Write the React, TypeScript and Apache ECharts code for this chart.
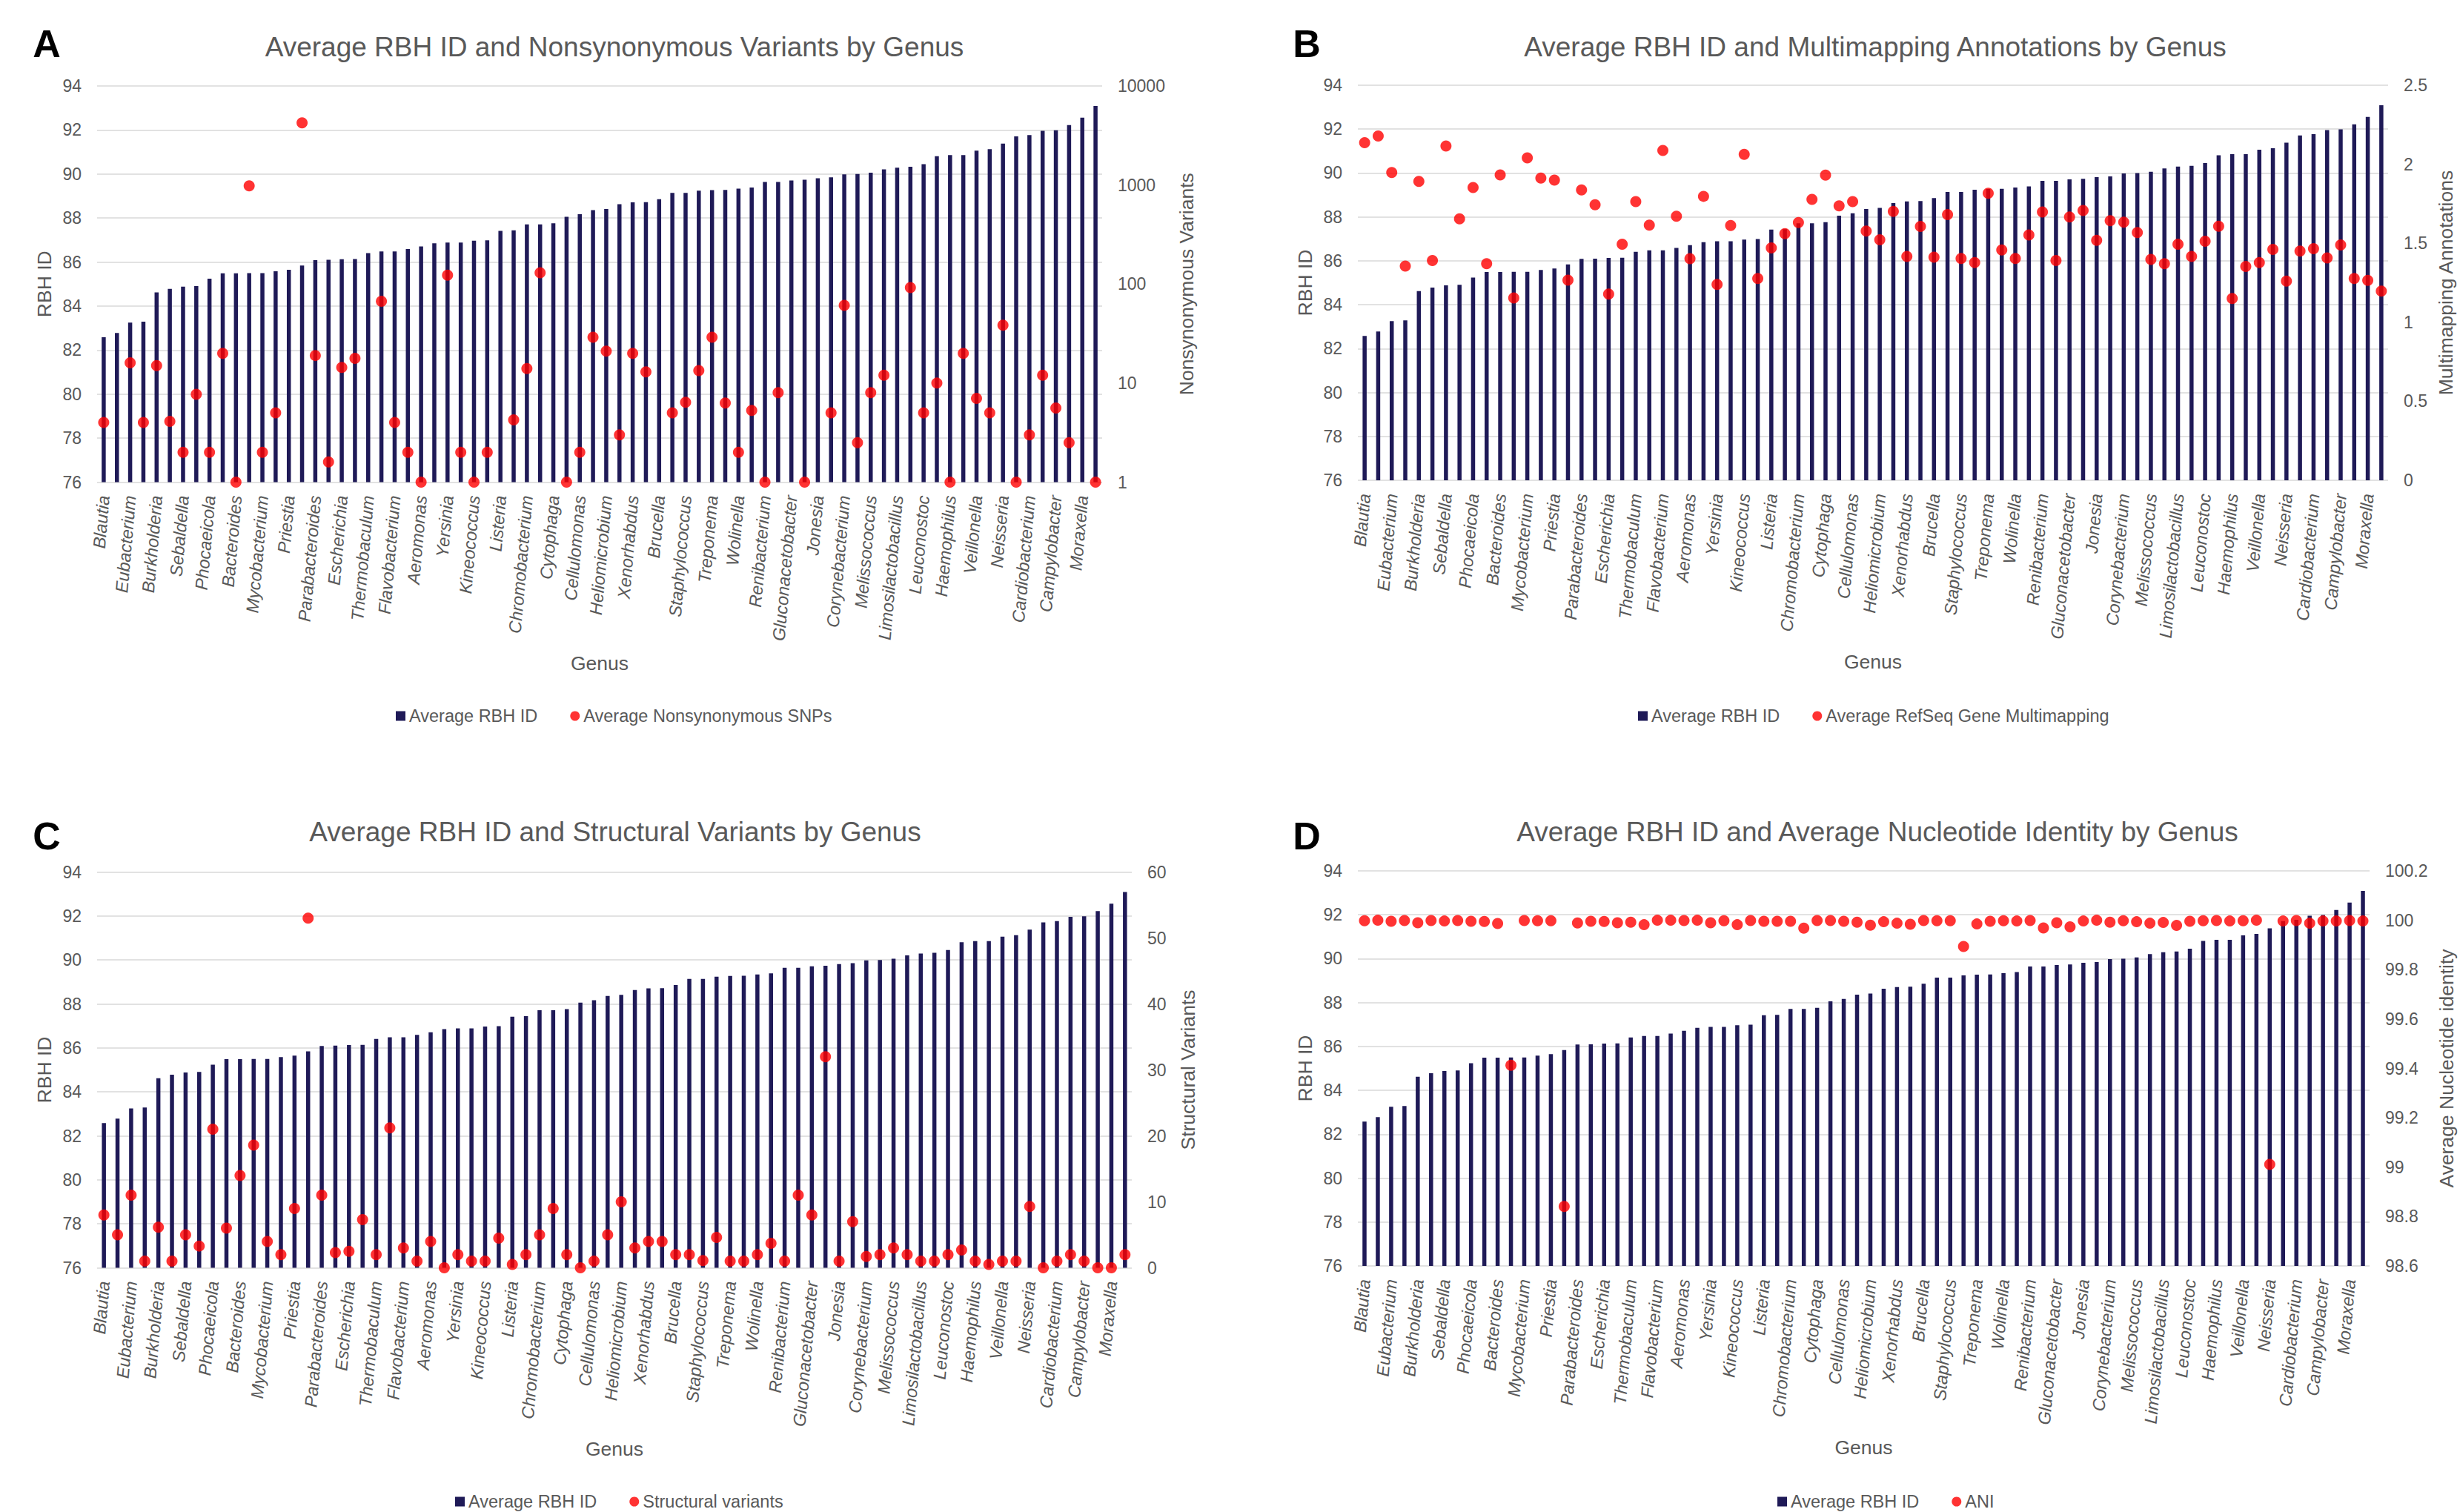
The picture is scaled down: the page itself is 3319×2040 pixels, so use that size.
import React, { useEffect, useRef } from "react";
import * as echarts from "echarts";

const genus = ['Blautia','','Eubacterium','','Burkholderia','','Sebaldella','','Phocaeicola','','Bacteroides','','Mycobacterium','','Priestia','','Parabacteroides','','Escherichia','','Thermobaculum','','Flavobacterium','','Aeromonas','','Yersinia','','Kineococcus','','Listeria','','Chromobacterium','','Cytophaga','','Cellulomonas','','Heliomicrobium','','Xenorhabdus','','Brucella','','Staphylococcus','','Treponema','','Wolinella','','Renibacterium','','Gluconacetobacter','','Jonesia','','Corynebacterium','','Melissococcus','','Limosilactobacillus','','Leuconostoc','','Haemophilus','','Veillonella','','Neisseria','','Cardiobacterium','','Campylobacter','','Moraxella',''];

const rbhId = [82.58,82.78,83.25,83.29,84.62,84.78,84.88,84.91,85.24,85.49,85.49,85.5,85.5,85.58,85.65,85.84,86.09,86.1,86.13,86.14,86.41,86.48,86.48,86.59,86.71,86.85,86.89,86.89,86.97,86.99,87.42,87.44,87.71,87.71,87.76,88.06,88.17,88.36,88.41,88.63,88.71,88.72,88.86,89.14,89.14,89.24,89.27,89.28,89.34,89.39,89.64,89.64,89.71,89.74,89.81,89.85,89.98,90.0,90.06,90.21,90.29,90.33,90.45,90.81,90.86,90.86,91.06,91.13,91.38,91.71,91.77,91.96,91.99,92.22,92.56,93.09];

const nonsynSnps = [4,null,16,4,15,4.1,2,7.7,2,20,1,980,2,5,null,4250,19,1.6,14.4,17.8,null,67,4,2,1,null,123,2,1,2,null,4.25,14,130,null,1,2,29,21,3,20,13,null,5,6.4,13.4,29,6.3,2,5.3,1,8,null,1,null,5,61,2.5,8,12,null,92,5,10,1,20,7,5,38.5,1,3,12,5.6,2.5,null,1];

const multimapping = [2.137,2.179,1.948,1.355,1.891,1.391,2.115,1.655,1.853,1.371,1.933,1.154,2.04,1.912,1.9,1.266,1.837,1.744,1.178,1.494,1.764,1.615,2.087,1.671,1.402,1.797,1.24,1.612,2.063,1.277,1.471,1.561,1.631,1.778,1.931,1.737,1.764,1.577,1.522,1.702,1.416,1.607,1.412,1.681,1.404,1.378,1.816,1.457,1.404,1.553,1.698,1.391,1.666,1.707,1.518,1.643,1.633,1.568,1.398,1.371,1.494,1.417,1.513,1.608,1.15,1.353,1.378,1.461,1.261,1.45,1.466,1.407,1.489,1.277,1.265,1.197];

const structural = [8,5,11,1,6.15,1,5,3.3,21,6,14,18.6,4,2,9,53,11,2.3,2.5,7.3,2,21.2,3,1,4,0,2,1,1,4.5,0.5,2,5,9,2,0,1,5,10,3,4,4,2,2,1.1,4.6,1,1,2,3.7,1,11,8,32,1,7,1.7,2,3,2,1,1,2,2.7,1,0.5,1,1,9.3,0,1,2,1,0,0,2];

const ani = [99.998,100.0,99.996,99.999,99.99,99.999,99.997,99.999,99.996,99.995,99.987,99.413,99.999,99.998,99.998,98.841,99.989,99.996,99.995,99.99,99.992,99.982,100.0,100.0,99.999,100.0,99.99,99.998,99.982,99.999,99.996,99.996,99.996,99.968,99.999,99.999,99.996,99.992,99.98,99.994,99.988,99.984,99.999,99.998,99.998,99.894,99.985,99.996,99.998,99.997,99.999,99.969,99.99,99.973,99.997,100.0,99.992,99.998,99.994,99.988,99.991,99.979,99.996,99.998,99.999,99.997,99.998,100.0,99.011,99.997,99.999,99.988,99.997,99.997,99.999,99.997];

const panelTitles = [
  "Average RBH ID and Nonsynonymous Variants by Genus",
  "Average RBH ID and Multimapping Annotations by Genus",
  "Average RBH ID and Structural Variants by Genus",
  "Average RBH ID and Average Nucleotide Identity by Genus",
];
const panelLetters = ["A", "B", "C", "D"];
const dotSeriesNames = [
  "Average Nonsynonymous SNPs",
  "Average RefSeq Gene Multimapping",
  "Structural variants",
  "ANI",
];
const rightAxisNames = [
  "Nonsynonymous Variants",
  "Multimapping Annotations",
  "Structural Variants",
  "Average Nucleotide identity",
];
const dotData = [nonsynSnps, multimapping, structural, ani];

const FONT = "'Liberation Sans', Arial, sans-serif";
const GRAY = "#595959";
const NAVY = "#1f1a57";
const RED = "#ff0000";

export default function App() {
  const ref = useRef<HTMLDivElement>(null);
  useEffect(() => {
    document.body.style.margin = "0";
    const chart = echarts.init(ref.current!, null, { renderer: "svg" });

    const grids = [
      { left: 131, top: 116, width: 1356, height: 534.5 },
      { left: 1832, top: 115, width: 1390, height: 533 },
      { left: 131, top: 1176.5, width: 1396, height: 534 },
      { left: 1832, top: 1175, width: 1365, height: 533 },
    ];
    const titlePos = [
      [829, 63],
      [2530, 63],
      [830, 1122],
      [2533, 1122],
    ];
    const letterPos = [
      [63, 59],
      [1763, 59],
      [63, 1128],
      [1763, 1128],
    ];
    const legendPos = [
      [534, 954],
      [2210, 954],
      [614, 2014],
      [2398, 2014],
    ];
    const rightGaps = [100, 64, 62, 90];

    const rightAxes: any[] = [
      {
        type: "log",
        logBase: 10,
        min: 1,
        max: 10000,
        axisLabel: { formatter: (v: number) => String(Math.round(v)) },
      },
      { type: "value", min: 0, max: 2.5, interval: 0.5 },
      { type: "value", min: 0, max: 60, interval: 10 },
      { type: "value", min: 98.6, max: 100.2, interval: 0.2 },
    ];

    const xAxis = grids.map((_, i) => ({
      type: "category",
      gridIndex: i,
      data: genus,
      name: "Genus",
      nameLocation: "middle",
      nameGap: 231,
      nameTextStyle: { fontSize: 26.5, color: GRAY, fontFamily: FONT },
      axisLine: { show: false },
      axisTick: { show: false },
      axisLabel: {
        interval: 0,
        rotate: 85,
        margin: 18,
        fontSize: 23.5,
        fontStyle: "italic",
        color: GRAY,
        fontFamily: FONT,
      },
    }));

    const yAxis: any[] = [];
    grids.forEach((_, i) => {
      yAxis.push({
        type: "value",
        gridIndex: i,
        position: "left",
        min: 76,
        max: 94,
        interval: 2,
        name: "RBH ID",
        nameLocation: "middle",
        nameRotate: 90,
        nameGap: 58,
        nameTextStyle: { fontSize: 26.5, color: GRAY, fontFamily: FONT },
        axisLine: { show: false },
        axisTick: { show: false },
        axisLabel: { margin: 21, fontSize: 23, color: GRAY, fontFamily: FONT },
        splitLine: { show: true, lineStyle: { color: "#d9d9d9", width: 1.5 } },
      });
      const r = rightAxes[i];
      yAxis.push({
        ...r,
        gridIndex: i,
        position: "right",
        name: rightAxisNames[i],
        nameLocation: "middle",
        nameRotate: 90,
        nameGap: rightGaps[i],
        nameTextStyle: { fontSize: 26.5, color: GRAY, fontFamily: FONT },
        axisLine: { show: false },
        axisTick: { show: false },
        axisLabel: {
          margin: 21,
          fontSize: 23,
          color: GRAY,
          fontFamily: FONT,
          ...(r.axisLabel || {}),
        },
        splitLine: { show: false },
      });
    });

    const series: any[] = [];
    grids.forEach((_, i) => {
      series.push({
        type: "bar",
        name: "Average RBH ID",
        xAxisIndex: i,
        yAxisIndex: 2 * i,
        data: rbhId,
        barWidth: 5.5,
        itemStyle: { color: NAVY },
        z: 2,
      });
      series.push({
        type: "scatter",
        name: dotSeriesNames[i],
        xAxisIndex: i,
        yAxisIndex: 2 * i + 1,
        data: dotData[i],
        symbol: "circle",
        symbolSize: 15,
        itemStyle: { color: RED },
        z: 3,
      });
    });

    const legend = grids.map((_, i) => ({
      left: legendPos[i][0],
      top: legendPos[i][1],
      orient: "horizontal",
      padding: 0,
      itemWidth: 13,
      itemHeight: 13,
      itemGap: 44,
      selectedMode: false,
      textStyle: { fontSize: 23.5, color: GRAY, fontFamily: FONT },
      data: [
        { name: "Average RBH ID", icon: "rect" },
        { name: dotSeriesNames[i], icon: "circle" },
      ],
    }));

    const graphic: any[] = [];
    grids.forEach((_, i) => {
      graphic.push({
        type: "text",
        x: titlePos[i][0],
        y: titlePos[i][1],
        style: {
          text: panelTitles[i],
          fontSize: 37,
          fontFamily: FONT,
          fill: GRAY,
          align: "center",
          verticalAlign: "middle",
        },
      });
      graphic.push({
        type: "text",
        x: letterPos[i][0],
        y: letterPos[i][1],
        style: {
          text: panelLetters[i],
          fontSize: 52,
          fontWeight: "bold",
          fontFamily: FONT,
          fill: "#000",
          align: "center",
          verticalAlign: "middle",
        },
      });
    });

    chart.setOption({
      animation: false,
      backgroundColor: "#ffffff",
      textStyle: { fontFamily: FONT },
      grid: grids,
      xAxis,
      yAxis,
      series,
      legend,
      graphic,
    });
    return () => chart.dispose();
  }, []);
  return (
    <div
      ref={ref}
      style={{ position: "absolute", left: 0, top: 0, width: 3319, height: 2040 }}
    />
  );
}
